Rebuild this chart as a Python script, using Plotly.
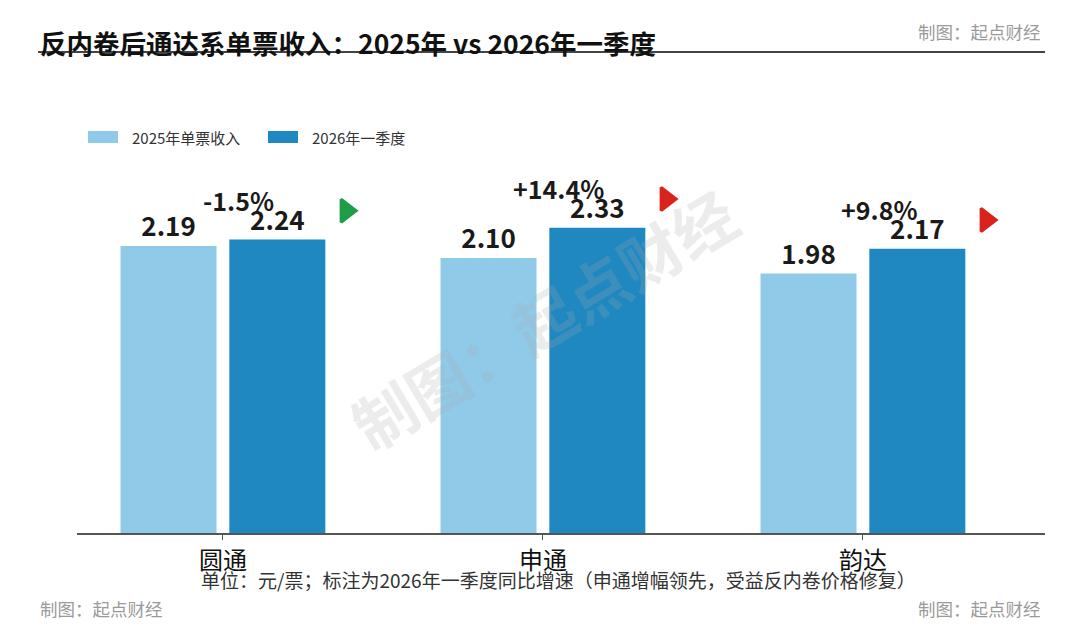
import plotly.graph_objects as go

# ---------------- data ----------------
companies = ["圆通", "申通", "韵达"]
rev_2025 = [2.19, 2.10, 1.98]
rev_2026q1 = [2.24, 2.33, 2.17]
growth = [-1.5, 14.4, 9.8]   # 2026Q1 同比增速 (%)

series_names = ["2025年单票收入", "2026年一季度"]
title_text = "反内卷后通达系单票收入：2025年 vs 2026年一季度"
note_text = "单位：元/票；标注为2026年一季度同比增速（申通增幅领先，受益反内卷价格修复）"
credit = "制图：起点财经"

# ---------------- style ----------------
C_LIGHT = "#8fcbe9"
C_DARK = "#1f88c1"
C_UP = "#d8241c"
C_DOWN = "#1f9d49"
FONT = "Noto Sans CJK SC"

# page puts the figure 8px in from the corner (body margin)
OX, OY = 8, 8
W, H = 1080, 635
L, R, T, B = 77 - OX, W - (1045 - OX), 140 - OY, H - (533 - OY)
PW, PH = W - L - R, H - T - B


def px_x(px):
    return (px - OX - L) / PW


def px_y(py):
    return (H - B - (py - OY)) / PH


x = list(range(len(companies)))

fig = go.Figure()

fig.add_trace(go.Bar(
    x=x, y=rev_2025, name=series_names[0],
    marker=dict(color=C_LIGHT, line=dict(width=0)),
    width=0.3, offset=-0.32,
    text=[f"{v:.2f}" for v in rev_2025], textposition="outside",
    textfont=dict(family=FONT, size=26, color="#1a1a1a", weight="bold"),
    cliponaxis=False, showlegend=False,
))
fig.add_trace(go.Bar(
    x=x, y=rev_2026q1, name=series_names[1],
    marker=dict(color=C_DARK, line=dict(width=0)),
    width=0.3, offset=0.02,
    text=[f"{v:.2f}" for v in rev_2026q1], textposition="outside",
    textfont=dict(family=FONT, size=26, color="#1a1a1a", weight="bold"),
    cliponaxis=False, showlegend=False,
))

# growth arrows (green = down, red = up)
arrow_col = [C_DOWN if g < 0 else C_UP for g in growth]
fig.add_trace(go.Scatter(
    x=[i + 0.385 for i in x], y=[v + 0.22 for v in rev_2026q1],
    mode="markers",
    marker=dict(symbol="triangle-right", size=20, color=arrow_col,
                line=dict(width=3, color=arrow_col)),
    cliponaxis=False, showlegend=False, hoverinfo="skip",
))

annotations = []
# growth labels
for i, (g, v) in enumerate(zip(growth, rev_2026q1)):
    annotations.append(dict(
        x=i + 0.05, y=v + 0.3, xref="x", yref="y",
        text=f"{g:+.1f}%", showarrow=False,
        font=dict(family=FONT, size=25, color="#1a1a1a", weight="bold"),
        xanchor="center", yanchor="middle",
    ))

# title, credits, note
annotations += [
    dict(x=px_x(38), y=px_y(42), xref="paper", yref="paper", text=title_text,
         showarrow=False, xanchor="left", yanchor="middle",
         font=dict(family=FONT, size=26.5, color="#111111", weight="bold")),
    dict(x=px_x(1043), y=px_y(31), xref="paper", yref="paper", text=credit,
         showarrow=False, xanchor="right", yanchor="middle",
         font=dict(family=FONT, size=17.5, color="#9a9a9a")),
    dict(x=px_x(38), y=px_y(608), xref="paper", yref="paper", text=credit,
         showarrow=False, xanchor="left", yanchor="middle",
         font=dict(family=FONT, size=17.5, color="#9a9a9a")),
    dict(x=px_x(1043), y=px_y(608), xref="paper", yref="paper", text=credit,
         showarrow=False, xanchor="right", yanchor="middle",
         font=dict(family=FONT, size=17.5, color="#9a9a9a")),
    dict(x=px_x(558), y=px_y(579), xref="paper", yref="paper", text=note_text,
         showarrow=False, xanchor="center", yanchor="middle",
         font=dict(family=FONT, size=19, color="#333333")),
    # watermark
    dict(x=px_x(543), y=px_y(318), xref="paper", yref="paper", text=credit,
         showarrow=False, textangle=-31, xanchor="center", yanchor="middle",
         font=dict(family=FONT, size=62, color="rgba(170,170,170,0.22)", weight="bold")),
    # legend labels
    dict(x=px_x(130), y=px_y(137), xref="paper", yref="paper", text=series_names[0],
         showarrow=False, xanchor="left", yanchor="middle",
         font=dict(family=FONT, size=15, color="#333333")),
    dict(x=px_x(310), y=px_y(137), xref="paper", yref="paper", text=series_names[1],
         showarrow=False, xanchor="left", yanchor="middle",
         font=dict(family=FONT, size=15, color="#333333")),
]

shapes = [
    # title underline
    dict(type="line", xref="paper", yref="paper",
         x0=px_x(38), x1=px_x(1045), y0=px_y(52), y1=px_y(52),
         line=dict(color="#444444", width=2)),
    # legend swatches
    dict(type="rect", xref="paper", yref="paper",
         x0=px_x(88), x1=px_x(118), y0=px_y(143), y1=px_y(131),
         fillcolor=C_LIGHT, line=dict(width=0)),
    dict(type="rect", xref="paper", yref="paper",
         x0=px_x(268), x1=px_x(298), y0=px_y(143), y1=px_y(131),
         fillcolor=C_DARK, line=dict(width=0)),
]

fig.update_layout(
    width=W, height=H,
    margin=dict(l=L, r=R, t=T, b=B),
    paper_bgcolor="white", plot_bgcolor="white",
    barmode="overlay",
    annotations=annotations, shapes=shapes,
    font=dict(family=FONT),
    showlegend=False,
)
fig.update_xaxes(
    range=[-0.456, 2.569], tickvals=x, ticktext=companies,
    showline=True, linecolor="#555555", linewidth=1.5,
    ticks="outside", ticklen=5, tickcolor="#555555",
    tickfont=dict(family=FONT, size=24, color="#111111"),
    showgrid=False, zeroline=False,
)
fig.update_yaxes(
    range=[0, 3.0], visible=False, showgrid=False, zeroline=False,
)

fig.write_html("out.html")
